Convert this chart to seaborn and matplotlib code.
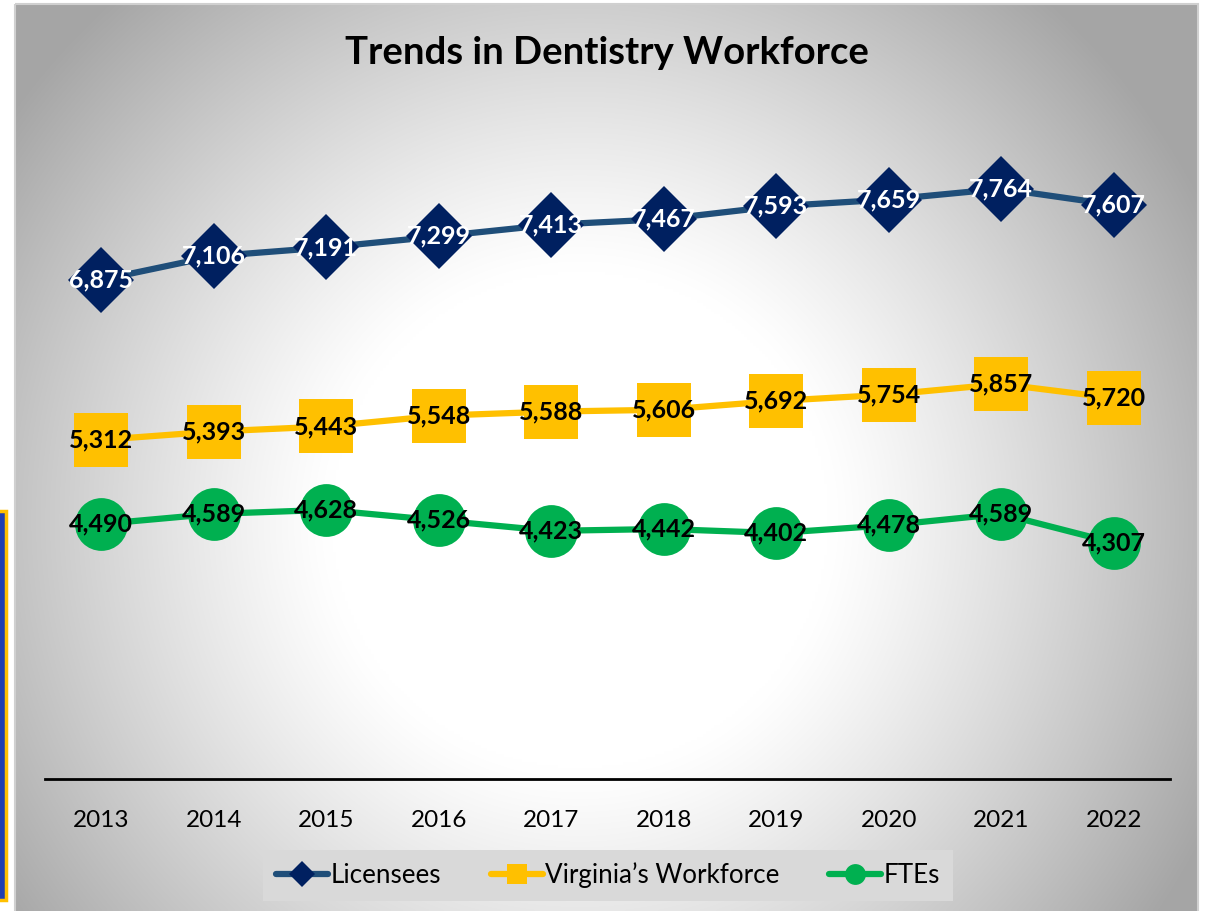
import numpy as np
import pandas as pd
import matplotlib
matplotlib.use("Agg")
import matplotlib.pyplot as plt
import seaborn as sns
from matplotlib.lines import Line2D
from matplotlib.patches import Rectangle

years = ["2013", "2014", "2015", "2016", "2017", "2018", "2019", "2020", "2021", "2022"]
licensees = [6875, 7106, 7191, 7299, 7413, 7467, 7593, 7659, 7764, 7607]
workforce = [5312, 5393, 5443, 5548, 5588, 5606, 5692, 5754, 5857, 5720]
ftes = [4490, 4589, 4628, 4526, 4423, 4442, 4402, 4478, 4589, 4307]
series_names = ["Licensees", "Virginia\u2019s Workforce", "FTEs"]

sns.set_theme(style="white")
plt.rcParams["font.family"] = ["Lato", "DejaVu Sans"]

W, H = 1207, 911
fig = plt.figure(figsize=(W / 100, H / 100), dpi=100)
fig.patch.set_facecolor("white")

# background chart area with radial gradient
bg = fig.add_axes([0, 0, 1, 1], zorder=-10)
bg.set_xlim(0, W)
bg.set_ylim(H, 0)
bg.axis("off")
x0, x1, y0, y1 = 15, 1198, 4, 911
gx = np.linspace(x0, x1, 400)
gy = np.linspace(y0, y1, 320)
XX, YY = np.meshgrid(gx, gy)
cx, cy = 580, 520
d = np.sqrt((XX - cx) ** 2 + (YY - cy) ** 2)
t = np.clip((d - 250.0) / (700.0 - 250.0), 0, 1) ** 1.15
val = 1.0 - t * (1.0 - 0.65)
img = np.dstack([val, val, val])
bg.imshow(img, extent=(x0, x1, y1, y0), aspect="auto", interpolation="bilinear")
bg.add_patch(Rectangle((x0, y0), x1 - x0, y1 - y0 + 5, fill=False, edgecolor="#d0d0d0", lw=1.5))
bg.add_patch(Rectangle((-10, 511), 16, 389, facecolor="#1f3fb0", edgecolor="#FFC000", lw=2.5))
bg.set_xlim(0, W)
bg.set_ylim(H, 0)

# main axes
ax_left, ax_right = 45, 1170
ax_bottom, ax_top = 779, 62.2
ax = fig.add_axes([ax_left / W, 1 - ax_bottom / H, (ax_right - ax_left) / W, (ax_bottom - ax_top) / H])
ax.set_facecolor("none")

xs = np.arange(len(years))
styles = [
    (licensees, "#1F4E79", "D", 34, "#002060", "white"),
    (workforce, "#FFC000", "s", 39.5, "#FFC000", "black"),
    (ftes, "#00B050", "o", 38, "#00B050", "black"),
]
for vals, lc, mk, ms, mc, tc in styles:
    sns.lineplot(x=xs, y=vals, ax=ax, color=lc, linewidth=4.5, marker=mk, markersize=ms,
                 markerfacecolor=mc, markeredgecolor=mc, markeredgewidth=0, clip_on=False)
    for xi, v in zip(xs, vals):
        ax.text(xi, v, f"{v:,}", ha="center", va="center", color=tc, fontsize=18,
                fontweight="bold", zorder=5)

ax.set_xlim(-0.5, len(years) - 0.5)
ax.set_ylim(2000, 9000)
ax.set_yticks([])
ax.set_xticks(xs)
ax.set_xticklabels(years, fontsize=17.5, color="black")
ax.tick_params(axis="x", length=0, pad=22)
ax.set_xlabel("")
ax.set_ylabel("")
for s in ["top", "right", "left"]:
    ax.spines[s].set_visible(False)
ax.spines["bottom"].set_color("black")
ax.spines["bottom"].set_linewidth(2)

fig.text(607 / W, 1 - 53 / H, "Trends in Dentistry Workforce", ha="center", va="center",
         fontsize=27.5, fontweight="bold", color="black")

handles = [
    Line2D([0], [0], color="#1F4E79", lw=4.5, marker="D", markersize=13, markerfacecolor="#002060", markeredgewidth=0),
    Line2D([0], [0], color="#FFC000", lw=4.5, marker="s", markersize=15, markerfacecolor="#FFC000", markeredgewidth=0),
    Line2D([0], [0], color="#00B050", lw=4.5, marker="o", markersize=15, markerfacecolor="#00B050", markeredgewidth=0),
]
leg = fig.legend(handles, series_names, loc="center", bbox_to_anchor=(608 / W, 1 - 875.5 / H), ncol=3,
                 frameon=True, fancybox=False, facecolor="#d9d9d9", edgecolor="none", framealpha=1,
                 fontsize=18.7, handlelength=2.0, handletextpad=0.1, columnspacing=1.9, borderpad=0.5)
for txt in leg.get_texts():
    txt.set_color("black")

fig.savefig("out.png", dpi=100)
